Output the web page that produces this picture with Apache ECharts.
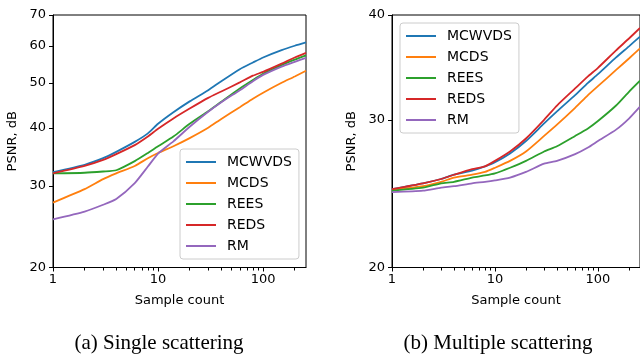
<!DOCTYPE html>
<html><head><meta charset="utf-8">
<script src="https://cdn.jsdelivr.net/npm/echarts@6/dist/echarts.min.js"></script>
<style>html,body{margin:0;padding:0;background:#fff}#c{width:640px;height:356px}</style>
</head><body><div id="c"></div>
<script>
// ---- data ----
const sampleCounts = [1, 2, 3, 4, 6, 8, 10, 14, 20, 30, 40, 60, 80, 100, 150, 200, 256];
const methodNames = ['MCWVDS', 'MCDS', 'REES', 'REDS', 'RM'];
const methodColors = ['#1f77b4', '#ff7f0e', '#2ca02c', '#d62728', '#9467bd'];

// (a) Single scattering, PSNR dB
const singleMCWVDS = [32.1, 33.3, 34.4, 35.5, 37.3, 38.9, 40.8, 43.2, 45.6, 48.2, 50.4, 53.5, 55.3, 56.7, 58.8, 60.1, 61.1];
const singleMCDS   = [27.6, 29.5, 31.0, 31.9, 33.1, 34.4, 35.3, 36.5, 38.0, 40.0, 41.8, 44.3, 46.2, 47.6, 50.0, 51.6, 53.1];
const singleREES   = [31.9, 32.0, 32.2, 32.4, 33.9, 35.3, 36.5, 38.3, 40.8, 43.4, 45.5, 48.6, 50.7, 52.3, 54.6, 56.1, 57.3];
const singleREDS   = [31.9, 33.1, 34.1, 35.1, 36.7, 38.3, 39.8, 41.9, 44.0, 46.4, 47.9, 50.1, 51.8, 52.8, 55.0, 56.7, 58.0];
const singleRM     = [25.4, 26.4, 27.3, 28.1, 30.4, 33.0, 35.2, 37.4, 40.2, 43.3, 45.4, 48.2, 50.4, 52.0, 54.2, 55.5, 56.6];

// (b) Multiple scattering, PSNR dB
const multiMCWVDS = [24.8, 25.2, 25.5, 25.8, 26.1, 26.4, 26.7, 27.35, 28.3, 29.7, 30.7, 32.1, 33.2, 34.0, 35.6, 36.7, 37.7];
const multiMCDS   = [24.75, 25.0, 25.3, 25.6, 25.8, 26.0, 26.3, 26.8, 27.5, 28.7, 29.6, 31.0, 32.1, 32.9, 34.4, 35.5, 36.5];
const multiREES   = [24.7, 24.9, 25.2, 25.3, 25.6, 25.75, 25.9, 26.3, 26.8, 27.5, 27.9, 28.7, 29.3, 29.9, 31.2, 32.4, 33.4];
const multiREDS   = [24.8, 25.2, 25.5, 25.8, 26.2, 26.4, 26.8, 27.5, 28.5, 30.0, 31.2, 32.7, 33.8, 34.6, 36.3, 37.5, 38.6];
const multiRM     = [24.6, 24.7, 24.9, 25.0, 25.2, 25.3, 25.4, 25.6, 26.0, 26.6, 26.8, 27.3, 27.8, 28.3, 29.2, 30.1, 31.1];

const xMajorTicks = [1, 10, 100];
const xMinorTicks = [2, 3, 4, 5, 6, 7, 8, 9, 20, 30, 40, 50, 60, 70, 80, 90, 200];
const yTicksSingle = [20, 30, 40, 50, 60, 70];
const yTicksMulti = [20, 30, 40];
const xTitle = 'Sample count';
const yTitle = 'PSNR, dB';
const captions = ['(a) Single scattering', '(b) Multiple scattering'];

// ---- chart ----
const FONT = 'DejaVu Sans';
const PLOT_H = 252.5;
const singleData = [singleMCWVDS, singleMCDS, singleREES, singleREDS, singleRM];
const multiData = [multiMCWVDS, multiMCDS, multiREES, multiREDS, multiRM];

function xMajor(g) {
  return {
    type: 'log', gridIndex: g, position: 'bottom', min: 1, max: 256,
    name: xTitle, nameLocation: 'middle', nameGap: 27,
    nameTextStyle: { fontFamily: FONT, fontSize: 13, color: '#000' },
    axisLine: { show: true, onZero: false, lineStyle: { color: '#000', width: 1 } },
    axisTick: { show: true, length: 4, customValues: xMajorTicks, lineStyle: { color: '#000', width: 1 } },
    axisLabel: { customValues: xMajorTicks, margin: 6, fontFamily: FONT, fontSize: 13, color: '#000', formatter: v => String(Math.round(v)) },
    splitLine: { show: false }
  };
}
function xMinor(g) {
  return {
    type: 'log', gridIndex: g, position: 'bottom', min: 1, max: 256,
    axisLine: { show: false },
    axisTick: { show: true, length: 3, customValues: xMinorTicks, lineStyle: { color: '#000', width: 1 } },
    axisLabel: { show: false },
    splitLine: { show: false }
  };
}
function yAxis(g, max, ticks) {
  return {
    type: 'log', gridIndex: g, min: 20, max: max,
    name: yTitle, nameLocation: 'middle', nameGap: 34,
    nameTextStyle: { fontFamily: FONT, fontSize: 13, color: '#000' },
    axisLine: { show: true, onZero: false, lineStyle: { color: '#000', width: 1 } },
    axisTick: { show: true, length: 4, customValues: ticks, lineStyle: { color: '#000', width: 1 } },
    axisLabel: { customValues: ticks, margin: 7, fontFamily: FONT, fontSize: 13, color: '#000', formatter: v => String(Math.round(v)) },
    splitLine: { show: false }
  };
}
function legend(left, top) {
  return {
    data: methodNames, orient: 'vertical', left: left, top: top,
    padding: [6, 7, 6, 5], itemWidth: 30, itemHeight: 14, itemGap: 7,
    selectedMode: false,
    itemStyle: { opacity: 0 },
    backgroundColor: 'rgba(255,255,255,0.8)', borderColor: '#cccccc', borderWidth: 1, borderRadius: 3,
    textStyle: { fontFamily: FONT, fontSize: 14, color: '#000', padding: [0, 0, 0, 6] }
  };
}
const series = [];
[singleData, multiData].forEach((set, g) => {
  set.forEach((vals, i) => {
    series.push({
      type: 'line', name: methodNames[i], xAxisIndex: g, yAxisIndex: g,
      data: sampleCounts.map((n, k) => [n, vals[k]]),
      symbol: 'none', showSymbol: false, smooth: 0.2,
      lineStyle: { color: methodColors[i], width: 1.8 },
      itemStyle: { color: methodColors[i] },
      z: 2 + i
    });
  });
});

const chart = echarts.init(document.getElementById('c'), null, { renderer: 'canvas' });
chart.setOption({
  animation: false,
  backgroundColor: '#fff',
  grid: [
    { left: 53, top: 15, width: 253, height: PLOT_H, show: true, borderColor: '#000', borderWidth: 1, backgroundColor: 'transparent' },
    { left: 392, top: 15, width: 253, height: PLOT_H, show: true, borderColor: '#000', borderWidth: 1, backgroundColor: 'transparent' }
  ],
  xAxis: [xMajor(0), xMajor(1), xMinor(0), xMinor(1)],
  yAxis: [yAxis(0, 70, yTicksSingle), yAxis(1, 40, yTicksMulti)],
  legend: [legend(180, 149), legend(400, 23)],
  series: series,
  graphic: [
    { type: 'text', x: 159, y: 343, style: { text: captions[0], fontFamily: 'Liberation Serif', fontSize: 21, fill: '#000', align: 'center', verticalAlign: 'middle' } },
    { type: 'text', x: 498, y: 343, style: { text: captions[1], fontFamily: 'Liberation Serif', fontSize: 21, fill: '#000', align: 'center', verticalAlign: 'middle' } }
  ]
});
</script></body></html>
